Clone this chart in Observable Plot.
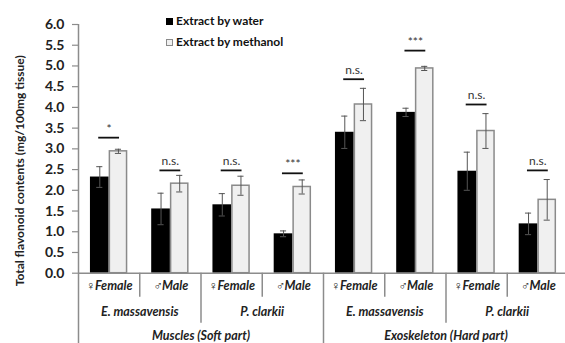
<!DOCTYPE html>
<html><head><meta charset="utf-8">
<script src="https://cdn.jsdelivr.net/npm/d3@7"></script>
<script src="https://cdn.jsdelivr.net/npm/@observablehq/plot@0.6"></script>
<style>
html,body{margin:0;padding:0;background:#fff;}
#chart{position:relative;width:565px;height:343px;overflow:hidden;font-family:Lato,"Open Sans",sans-serif;}
#chart svg{position:absolute;left:0;top:0;}
.legend{position:absolute;left:166px;top:11.25px;font:bold 12px Lato,sans-serif;color:#111;line-height:20.5px;}
.legend .sw{display:inline-block;width:7px;height:7px;margin-right:3px;vertical-align:0px;box-sizing:border-box;}
</style></head><body><div id="chart"></div>
<script>
const tissues = ["Muscles (Soft part)", "Exoskeleton (Hard part)"];
const species = ["E. massavensis", "P. clarkii"];
const sexes = ["♀Female", "♂Male"];
const seriesNames = ["Extract by water", "Extract by methanol"];
const water = [2.32, 1.55, 1.65, 0.95, 3.40, 3.88, 2.46, 1.19];
const waterErr = [0.25, 0.38, 0.27, 0.07, 0.39, 0.10, 0.46, 0.26];
const methanol = [2.94, 2.16, 2.11, 2.08, 4.07, 4.94, 3.43, 1.77];
const methanolErr = [0.05, 0.20, 0.23, 0.17, 0.39, 0.05, 0.42, 0.49];
const sigLabels = ["*", "n.s.", "n.s.", "***", "n.s.", "***", "n.s.", "n.s."];
const sigLevel = [3.27, 2.48, 2.48, 2.41, 4.68, 5.37, 4.07, 2.48];
const yTicks = [0, 0.5, 1, 1.5, 2, 2.5, 3, 3.5, 4, 4.5, 5, 5.5, 6];
const yTitle = "Total flavonoid contents (mg/100mg tissue)";

// groups in order tissue > species > sex
const groups = [];
tissues.forEach((t, ti) => species.forEach((s, si) => sexes.forEach((x, xi) => {
  groups.push({i: groups.length, tissue: t, species: s, sex: x});
})));

const half = 0.305; // half-width of the bar pair in band units
const bars = [];
groups.forEach((g, i) => {
  bars.push({i, k: 0, x1: i + 0.5 - half, x2: i + 0.5, v: water[i], e: waterErr[i]});
  bars.push({i, k: 1, x1: i + 0.5, x2: i + 0.5 + half, v: methanol[i], e: methanolErr[i]});
});
bars.forEach(b => b.c = (b.x1 + b.x2) / 2);

// boundaries between groups and their hierarchical depth
const bounds = [];
for (let i = 0; i <= groups.length; i++) {
  const a = groups[i - 1], b = groups[i];
  let depth;
  if (!a || !b || a.tissue !== b.tissue) depth = 3;
  else if (a.species !== b.species) depth = 2;
  else depth = 1;
  bounds.push({i, depth});
}
const speciesLabels = [];
const tissueLabels = [];
tissues.forEach((t, ti) => {
  const gs = groups.filter(g => g.tissue === t);
  tissueLabels.push({text: t, c: d3.mean(gs, g => g.i + 0.5)});
  species.forEach(s => {
    const gg = gs.filter(g => g.species === s);
    speciesLabels.push({text: s, c: d3.mean(gg, g => g.i + 0.5)});
  });
});
const sig = groups.map((g, i) => ({i, text: sigLabels[i], y: sigLevel[i]}));

const axisColor = "#8c8c8c";

const plot = Plot.plot({
  width: 565, height: 343,
  marginLeft: 78, marginRight: -3, marginTop: 24, marginBottom: 70.3,
  x: {domain: [0, 8], axis: null},
  y: {domain: [0, 6], axis: null},
  style: {fontFamily: "Lato, sans-serif", background: "#fff", overflow: "visible"},
  marks: [
    // bars
    Plot.rectY(bars.filter(b => b.k === 0), {x1: "x1", x2: "x2", y1: 0, y2: "v", fill: "#000"}),
    Plot.rectY(bars.filter(b => b.k === 1), {x1: "x1", x2: "x2", y1: 0, y2: "v", fill: "#f0f0f0", stroke: "#8a8a8a", strokeWidth: 1.5, insetLeft: 0.75, insetRight: 0.75}),
    // error bars
    Plot.ruleX(bars, {x: "c", y1: d => d.v - d.e, y2: d => d.v + d.e, stroke: "#555", strokeWidth: 1}),
    Plot.ruleY(bars, {y: d => d.v + d.e, x1: d => d.c - 0.05, x2: d => d.c + 0.05, stroke: "#555", strokeWidth: 1}),
    Plot.ruleY(bars, {y: d => d.v - d.e, x1: d => d.c - 0.05, x2: d => d.c + 0.05, stroke: "#555", strokeWidth: 1}),
    // significance
    Plot.ruleY(sig, {y: "y", x1: d => d.i + 0.5 - 0.17, x2: d => d.i + 0.5 + 0.17, stroke: "#111", strokeWidth: 1.8}),
    Plot.text(sig, {x: d => d.i + 0.5, y: "y", text: "text", dy: -5, lineAnchor: "bottom", fontSize: 12, fill: "#333"}),
    // axes lines
    Plot.ruleY([0], {y: d => d, stroke: axisColor, strokeWidth: 1.5}),
    Plot.ruleX([0], {x: d => d, y1: 6, y2: 0, insetBottom: -80, stroke: axisColor, strokeWidth: 1.5}),
    // y ticks
    Plot.ruleY(yTicks, {y: d => d, x1: 0, x2: 0, insetLeft: -6, stroke: axisColor, strokeWidth: 1.2}),
    Plot.text(yTicks, {y: d => d, frameAnchor: "left", dx: -14, textAnchor: "end", text: d => d.toFixed(1), fontSize: 14, fontWeight: "bold", fill: "#222"}),
    Plot.text([yTitle], {frameAnchor: "left", dx: -58, dy: 22, rotate: -90, textAnchor: "middle", text: d => d, fontSize: 12, fontWeight: "bold", fill: "#222"}),
    // hierarchical x axis separators
    Plot.ruleX(bounds.filter(b => b.depth === 1), {x: "i", y1: 0, y2: 0, insetBottom: -24, stroke: axisColor, strokeWidth: 1.5}),
    Plot.ruleX(bounds.filter(b => b.depth === 2), {x: "i", y1: 0, y2: 0, insetBottom: -50, stroke: axisColor, strokeWidth: 1.5}),
    Plot.ruleX(bounds.filter(b => b.depth === 3 && b.i > 0), {x: "i", y1: 0, y2: 0, insetBottom: -80, stroke: axisColor, strokeWidth: 1.5}),
    // x labels
    Plot.text(groups, {x: d => d.i + 0.5, frameAnchor: "bottom", dy: 17, text: "sex", fontSize: 12.5, fontWeight: "bold", fontStyle: "italic", fill: "#222"}),
    Plot.text(speciesLabels, {x: "c", frameAnchor: "bottom", dy: 42.5, text: "text", fontSize: 12.5, fontWeight: "bold", fontStyle: "italic", fill: "#222"}),
    Plot.text(tissueLabels, {x: "c", frameAnchor: "bottom", dy: 67, text: "text", fontSize: 12.5, fontWeight: "bold", fontStyle: "italic", fill: "#222"})
  ]
});
const chart = document.getElementById("chart");
chart.appendChild(plot);

const legend = document.createElement("div");
legend.className = "legend";
legend.innerHTML = seriesNames.map((n, k) =>
  `<div><span class="sw" style="background:${k === 0 ? "#000" : "#f0f0f0"};border:1px solid ${k === 0 ? "#000" : "#8a8a8a"}"></span>${n}</div>`
).join("");
chart.appendChild(legend);
</script>
</body></html>
